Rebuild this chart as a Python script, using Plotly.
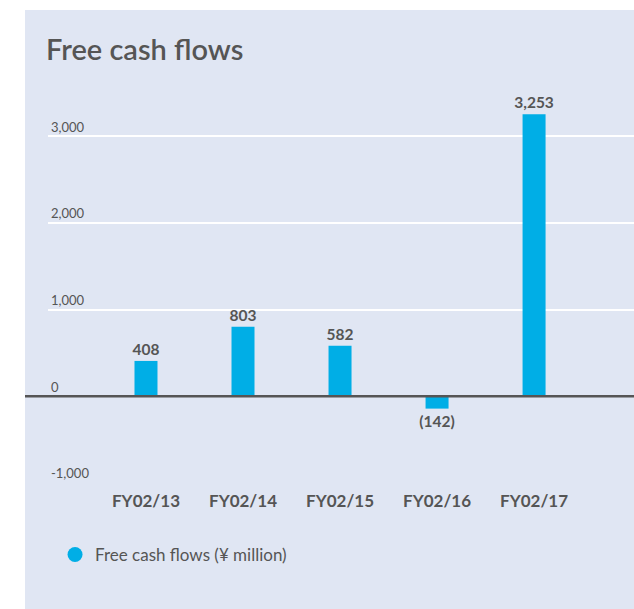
import plotly.graph_objects as go

years = ["FY02/13", "FY02/14", "FY02/15", "FY02/16", "FY02/17"]
fcf = [408, 803, 582, -142, 3253]
fcf_labels = ["408", "803", "582", "(142)", "3,253"]
y_ticks = [-1000, 0, 1000, 2000, 3000]
y_tick_text = ["-1,000", "0", "1,000", "2,000", "3,000"]

panel = "#e0e6f3"
grey = "#555555"
bar_blue = "#00aee6"

fig = go.Figure()

fig.add_trace(go.Bar(
    x=years, y=fcf,
    width=0.237,
    marker=dict(color=bar_blue, line_width=0),
    text=fcf_labels,
    textposition="outside",
    constraintext="none",
    textfont=dict(family="Lato", size=15.5, color=grey, weight="bold"),
    cliponaxis=False,
    showlegend=False,
))

# legend entry uses a round marker
fig.add_trace(go.Scatter(
    x=[None], y=[None], mode="markers",
    marker=dict(symbol="circle", size=15, color=bar_blue),
    name="Free cash flows (¥ million)",
))

# light blue panel behind the chart
fig.add_shape(type="rect", xref="paper", yref="paper",
              x0=-23 / 586, x1=1.05, y0=-126 / 393, y1=1 + 80 / 393,
              fillcolor=panel, line_width=0, layer="below")
# zero line reaching out to the panel edge
fig.add_shape(type="line", xref="paper", yref="y",
              x0=-23 / 586, x1=1.05, y0=0, y1=0,
              line=dict(color=grey, width=2.5), layer="above")

fig.update_layout(
    width=634, height=609,
    margin=dict(l=48, r=0, t=90, b=126),
    paper_bgcolor="white",
    plot_bgcolor="rgba(0,0,0,0)",
    font=dict(family="Lato", color=grey),
    title=dict(text="Free cash flows", xref="container", yref="container",
               x=46 / 634, y=1 - 50 / 609, xanchor="left", yanchor="middle",
               font=dict(family="Lato", size=29, color=grey, weight=600)),
    xaxis=dict(range=[-1.01, 5.03], showgrid=False, zeroline=False,
               showline=False, ticks="", ticklabelstandoff=6,
               tickfont=dict(family="Lato", size=17, color=grey, weight="bold")),
    yaxis=dict(range=[-1000, 3533], tickvals=y_ticks, ticktext=y_tick_text,
               showgrid=True, gridcolor="white", gridwidth=1.5,
               zeroline=False, showline=False,
               ticklabelposition="inside top",
               tickfont=dict(family="Lato", size=13, color=grey)),
    legend=dict(x=0.012, y=-0.183, xanchor="left", yanchor="middle",
                bgcolor="rgba(0,0,0,0)",
                font=dict(family="Lato", size=17, color=grey)),
    showlegend=True,
)

fig.write_html("out.html", config={"displayModeBar": False},
               post_script="document.body.style.margin='0px';")
